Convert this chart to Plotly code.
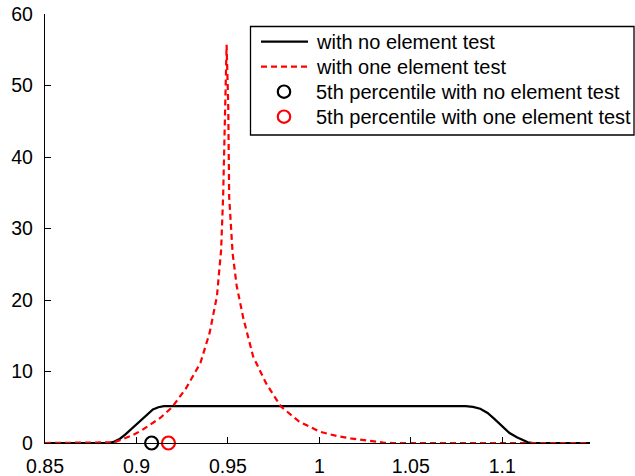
import plotly.graph_objects as go

# ---- data ----
x_no = [0.85, 0.885, 0.888, 0.891, 0.894, 0.897, 0.900, 0.903, 0.906, 0.909, 0.912, 0.915,
        1.080, 1.084, 1.088, 1.092, 1.096, 1.100, 1.104, 1.108, 1.111, 1.114, 1.117, 1.148]
y_no = [0.0, 0.0, 0.2, 0.6, 1.2, 1.9, 2.6, 3.4, 4.1, 4.7, 5.0, 5.15,
        5.15, 5.05, 4.8, 4.2, 3.3, 2.3, 1.4, 0.8, 0.4, 0.1, 0.0, 0.0]

x_one = [0.85, 0.886, 0.888, 0.893, 0.898, 0.903, 0.908, 0.913, 0.9195, 0.927, 0.935, 0.940,
         0.944, 0.9463, 0.9474, 0.9484, 0.9493, 0.9502, 0.9507, 0.9526, 0.9548, 0.9584,
         0.9638, 0.971, 0.979, 0.989, 1.000, 1.010, 1.018, 1.0276, 1.035, 1.040, 1.148]
y_one = [0.0, 0.0, 0.1, 0.6, 1.1, 1.8, 2.6, 3.5, 5.0, 7.6, 11.2, 15.4,
         20.5, 27.0, 34.5, 46.0, 55.7, 47.0, 34.4, 26.5, 22.0, 17.5,
         12.1, 8.3, 5.1, 3.0, 1.6, 0.95, 0.6, 0.3, 0.05, 0.0, 0.0]

p5_no = 0.9083
p5_one = 0.9175

x_ticks = [0.85, 0.9, 0.95, 1.0, 1.05, 1.1]
x_ticktext = ["0.85", "0.9", "0.95", "1", "1.05", "1.1"]
y_ticks = [0, 10, 20, 30, 40, 50, 60]

legend_labels = ["with no element test", "with one element test",
                 "5th percentile with no element test", "5th percentile with one element test"]

FONT = "Liberation Sans, Arial, sans-serif"
RED = "#ff0000"

# plot-area geometry in pixels (used to place the hand-drawn legend box)
W, H = 635, 476
L, R, T, B = 45, 45, 14, 33
PW, PH = W - L - R, H - T - B


def px(xp):
    return (xp - L) / PW


def py(yp):
    return (H - B - yp) / PH


fig = go.Figure()
fig.add_trace(go.Scatter(x=x_no, y=y_no, mode="lines", name=legend_labels[0],
                         line=dict(color="black", width=2.2)))
fig.add_trace(go.Scatter(x=x_one, y=y_one, mode="lines", name=legend_labels[1],
                         line=dict(color=RED, width=2.2, dash="6px,4px")))
fig.add_trace(go.Scatter(x=[p5_no], y=[0], mode="markers", name=legend_labels[2],
                         cliponaxis=False,
                         marker=dict(symbol="circle-open", size=13, color="black",
                                     line=dict(width=2.2, color="black"))))
fig.add_trace(go.Scatter(x=[p5_one], y=[0], mode="markers", name=legend_labels[3],
                         cliponaxis=False,
                         marker=dict(symbol="circle-open", size=13, color=RED,
                                     line=dict(width=2.2, color=RED))))

# ---- legend drawn by hand to match the reference spacing ----
shapes = [dict(type="rect", xref="paper", yref="paper",
               x0=px(250.5), x1=px(634), y0=py(135), y1=py(26.5),
               line=dict(color="black", width=1.3), fillcolor="white", layer="above")]
rows = [41.7, 66.7, 91.7, 116.7]
shapes.append(dict(type="line", xref="paper", yref="paper", x0=px(261), x1=px(308),
                   y0=py(rows[0]), y1=py(rows[0]), line=dict(color="black", width=2.2),
                   layer="above"))
shapes.append(dict(type="line", xref="paper", yref="paper", x0=px(261), x1=px(308),
                   y0=py(rows[1]), y1=py(rows[1]),
                   line=dict(color=RED, width=2.2, dash="6px,4px"), layer="above"))
for r, c in [(rows[2], "black"), (rows[3], RED)]:
    shapes.append(dict(type="circle", xref="paper", yref="paper",
                       xsizemode="pixel", ysizemode="pixel",
                       xanchor=px(284), yanchor=py(r),
                       x0=-6.2, x1=6.2, y0=-6.2, y1=6.2,
                       line=dict(color=c, width=2.2), layer="above"))
annotations = [dict(xref="paper", yref="paper", x=px(314), y=py(r), text=t,
                    showarrow=False, xanchor="left", yanchor="middle",
                    font=dict(family=FONT, size=20, color="black"))
               for r, t in zip(rows, legend_labels)]

fig.update_layout(
    width=W, height=H,
    margin=dict(l=L, r=R, t=T, b=B, pad=0),
    paper_bgcolor="white", plot_bgcolor="white",
    font=dict(family=FONT, size=19, color="black"),
    showlegend=False,
    shapes=shapes, annotations=annotations,
    xaxis=dict(range=[0.85, 1.148], tickvals=x_ticks, ticktext=x_ticktext,
               automargin=False,
               showgrid=False, zeroline=False, showline=True, linecolor="black",
               linewidth=1.3, ticks="inside", ticklen=6, tickwidth=1.3,
               tickcolor="black", ticklabelstandoff=5,
               tickfont=dict(family=FONT, size=19.5, color="black")),
    yaxis=dict(range=[0, 60], tickvals=y_ticks, automargin=False,
               showgrid=False, zeroline=False, showline=True, linecolor="black",
               linewidth=1.3, ticks="inside", ticklen=6, tickwidth=1.3,
               tickcolor="black", ticklabelstandoff=7,
               tickfont=dict(family=FONT, size=19.5, color="black")),
)

fig.write_html("out.html")
